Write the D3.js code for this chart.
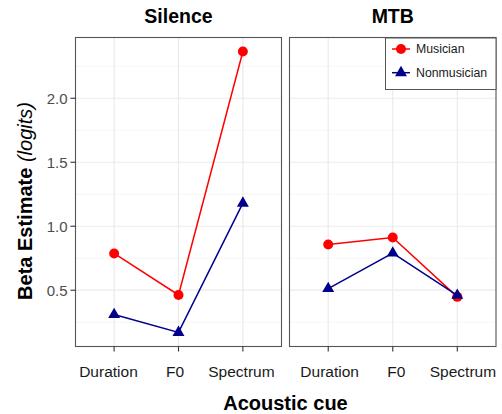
<!DOCTYPE html>
<html>
<head>
<meta charset="utf-8">
<script src="https://cdn.jsdelivr.net/npm/d3@7"></script>
<style>
  body { margin: 0; background: #fff; }
  svg { display: block; font-family: "Liberation Sans", Arial, Helvetica, sans-serif; }
</style>
</head>
<body>
<svg id="chart" width="502" height="414"></svg>
<script>
const width = 502, height = 414;

const cues = ["Duration", "F0", "Spectrum"];
const conditions = ["Silence", "MTB"];
const groups = ["Musician", "Nonmusician"];

// beta estimates
const silenceMusician = [0.787, 0.463, 2.365];
const silenceNonmusician = [0.31, 0.17, 1.18];
const mtbMusician = [0.857, 0.912, 0.448];
const mtbNonmusician = [0.513, 0.79, 0.46];

const yTicks = [0.5, 1.0, 1.5, 2.0];
const yMinor = [0.25, 0.75, 1.25, 1.75, 2.25];

const values = {
  Silence: { Musician: silenceMusician, Nonmusician: silenceNonmusician },
  MTB: { Musician: mtbMusician, Nonmusician: mtbNonmusician }
};
const colors = { Musician: "#ff0000", Nonmusician: "#00008b" };

const svg = d3.select("#chart");

const panels = [
  { name: "Silence", x0: 75.5, x1: 281.5 },
  { name: "MTB", x0: 289.5, x1: 496 }
];
const panelTop = 37.5, panelBottom = 346.5;
const midX = 285.5;

// ggplot-like 5% expansion of the data range
const all = [].concat(silenceMusician, silenceNonmusician, mtbMusician, mtbNonmusician);
const [lo, hi] = d3.extent(all);
const pad = (hi - lo) * 0.05;
const y = d3.scaleLinear().domain([lo - pad, hi + pad]).range([panelBottom, panelTop]);

const symbol = {
  Musician: d3.symbol().type(d3.symbolCircle).size(78),
  Nonmusician: d3.symbol().type(d3.symbolTriangle).size(62)
};

panels.forEach(p => {
  const x = d3.scalePoint().domain(cues).range([p.x0, p.x1]).padding(0.6);
  const g = svg.append("g");

  g.append("rect")
    .attr("x", p.x0).attr("y", panelTop)
    .attr("width", p.x1 - p.x0).attr("height", panelBottom - panelTop)
    .attr("fill", "#fff");

  // grid
  g.selectAll(".minor").data(yMinor).enter().append("line")
    .attr("x1", p.x0).attr("x2", p.x1)
    .attr("y1", d => y(d)).attr("y2", d => y(d))
    .attr("stroke", "#f0f0f0").attr("stroke-width", 0.7);
  g.selectAll(".major").data(yTicks).enter().append("line")
    .attr("x1", p.x0).attr("x2", p.x1)
    .attr("y1", d => y(d)).attr("y2", d => y(d))
    .attr("stroke", "#ebebeb").attr("stroke-width", 1.2);
  g.selectAll(".vgrid").data(cues).enter().append("line")
    .attr("x1", d => x(d)).attr("x2", d => x(d))
    .attr("y1", panelTop).attr("y2", panelBottom)
    .attr("stroke", "#ebebeb").attr("stroke-width", 1.2);

  // series
  groups.forEach(grp => {
    const vals = values[p.name][grp];
    const pts = cues.map((c, i) => [x(c), y(vals[i])]);
    g.append("path")
      .attr("d", d3.line()(pts))
      .attr("fill", "none")
      .attr("stroke", colors[grp])
      .attr("stroke-width", 1.5);
    g.selectAll(".pt-" + grp).data(pts).enter().append("path")
      .attr("d", symbol[grp])
      .attr("transform", d => `translate(${d[0]},${d[1]})`)
      .attr("fill", colors[grp]);
  });

  g.append("rect")
    .attr("x", p.x0).attr("y", panelTop)
    .attr("width", p.x1 - p.x0).attr("height", panelBottom - panelTop)
    .attr("fill", "none").attr("stroke", "#555").attr("stroke-width", 1.1);

  // x axis
  g.selectAll(".xtick").data(cues).enter().append("line")
    .attr("x1", d => x(d)).attr("x2", d => x(d))
    .attr("y1", panelBottom).attr("y2", panelBottom + 5)
    .attr("stroke", "#333").attr("stroke-width", 1.1);
  // labels in the original sit slightly spread out from the middle
  g.selectAll(".xlab").data(cues).enter().append("text")
    .attr("x", d => midX + (x(d) - midX) * 1.033).attr("y", 377)
    .attr("text-anchor", "middle")
    .attr("font-size", 15.5)
    .attr("fill", "#1a1a1a")
    .text(d => d);

  // strip title
  g.append("text")
    .attr("x", (p.x0 + p.x1) / 2).attr("y", 23)
    .attr("text-anchor", "middle")
    .attr("font-size", 19.5).attr("font-weight", "bold")
    .text(p.name);
});

// y axis on the left panel
const ya = svg.append("g");
ya.selectAll("line").data(yTicks).enter().append("line")
  .attr("x1", 70.5).attr("x2", 75.5)
  .attr("y1", d => y(d)).attr("y2", d => y(d))
  .attr("stroke", "#333").attr("stroke-width", 1.1);
ya.selectAll("text").data(yTicks).enter().append("text")
  .attr("x", 67.5).attr("y", d => y(d))
  .attr("dy", "0.36em")
  .attr("text-anchor", "end")
  .attr("font-size", 15)
  .attr("fill", "#4d4d4d")
  .text(d => d3.format(".1f")(d));

// axis titles
const yt = svg.append("text")
  .attr("transform", "translate(32,201) rotate(-90)")
  .attr("text-anchor", "middle")
  .attr("font-size", 20);
yt.append("tspan").attr("font-weight", "bold").text("Beta Estimate ");
yt.append("tspan").attr("font-style", "italic").text("(logits)");

svg.append("text")
  .attr("x", midX).attr("y", 410)
  .attr("text-anchor", "middle")
  .attr("font-size", 20).attr("font-weight", "bold")
  .text("Acoustic cue");

// legend
const lg = svg.append("g");
lg.append("rect")
  .attr("x", 385.5).attr("y", 38)
  .attr("width", 110.5).attr("height", 51.5)
  .attr("fill", "#fff").attr("stroke", "#555").attr("stroke-width", 1);
groups.forEach((grp, i) => {
  const cy = 49 + i * 23.7;
  lg.append("line")
    .attr("x1", 392).attr("x2", 410)
    .attr("y1", cy).attr("y2", cy)
    .attr("stroke", colors[grp]).attr("stroke-width", 1.5);
  lg.append("path")
    .attr("d", symbol[grp])
    .attr("transform", `translate(401,${cy})`)
    .attr("fill", colors[grp]);
  lg.append("text")
    .attr("x", 416).attr("y", cy)
    .attr("dy", "0.36em")
    .attr("font-size", 12.3)
    .attr("fill", "#1a1a1a")
    .text(grp);
});
</script>
</body>
</html>
